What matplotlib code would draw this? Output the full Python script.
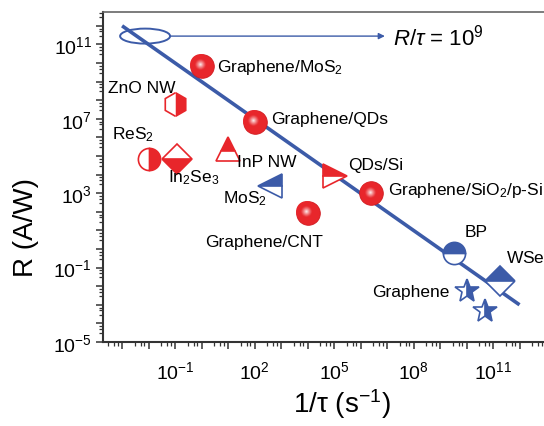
import numpy as np
import matplotlib
matplotlib.use("Agg")
import matplotlib.pyplot as plt
from matplotlib.patches import Ellipse
from matplotlib.transforms import ScaledTranslation
from matplotlib.ticker import LogLocator, FuncFormatter, NullFormatter
from matplotlib.colors import to_rgb

plt.rcParams['font.family'] = ['Liberation Sans', 'DejaVu Sans']
plt.rcParams['mathtext.fontset'] = 'custom'
plt.rcParams['mathtext.rm'] = 'Liberation Sans'
plt.rcParams['mathtext.it'] = 'Liberation Sans:italic'
plt.rcParams['mathtext.bf'] = 'Liberation Sans:bold'

RED = '#e8262b'
BLUE = '#3c5ba8'

# photodetectors: label, 1/tau (s^-1), responsivity (A/W)
names = ["Graphene/MoS$_2$", "ZnO NW", "Graphene/QDs", "ReS$_2$", "In$_2$Se$_3$",
         "InP NW", "MoS$_2$", "QDs/Si", "Graphene/SiO$_2$/p-Si", "Graphene/CNT",
         "BP", "WSe$_2$", "Graphene", ""]
inv_tau = [1.0, 0.1, 100, 0.01, 0.12, 10, 380, 1.1e5, 2.5e6, 1.0e4, 3.4e9, 1.8e11, 1.0e10, 5.0e10]
resp = [7e9, 6e7, 6.8e6, 7e4, 7e4, 2.4e5, 2.5e3, 8.3e3, 1.0e3, 87, 0.62, 0.019, 5.5e-3, 4.7e-4]

# marker style per device: (marker, color, fillstyle) ; 'sphere' = shaded ball
styles = [("sphere", RED, None), ("h", RED, "right"), ("sphere", RED, None),
          ("o", RED, "right"), ("D", RED, "bottom"), ("^", RED, "top"),
          ("<", BLUE, "top"), (">", RED, "top"), ("sphere", RED, None),
          ("sphere", RED, None), ("o", BLUE, "top"), ("D", BLUE, "top"),
          ("*", BLUE, "right"), ("*", BLUE, "right")]
msizes = [17, 17, 17, 16, 15, 17, 17, 17, 17, 17, 16, 15, 18, 18]

# label offsets in pixels from each marker, and alignment
label_dx = [15, -33, 17, -37, -9, 9, -3, 13, 17, -43, 11, 6, -17, 0]
label_dy = [-1, 17, 3, 25, -18, -13, -12, 12, 4, -29, 21, 23, 0, 0]
label_ha = ["left", "center", "left", "left", "left", "left", "right", "left",
            "left", "center", "left", "left", "right", "left"]

# R/tau = 1e9 reference line
line_x = np.array([1e-3, 1e12])
line_y = 1e9 / line_x

fig = plt.figure(figsize=(5.44, 4.27), dpi=100)
ax = fig.add_axes([103 / 544, 84 / 427, 443 / 544, 330.5 / 427])
ax.set_xscale('log')
ax.set_yscale('log')
ax.set_xlim(10 ** -3.72, 1e13)
ax.set_ylim(1e-5, 10 ** 12.77)

ax.plot(line_x, line_y, color=BLUE, lw=2.6, solid_capstyle='butt', zorder=2)


def sphere(x, y, size):
    # shaded ball: stack of shrinking discs going from red to white
    base = np.array(to_rgb(RED))
    shift = ax.transData + ScaledTranslation(-0.015, 0.015, fig.dpi_scale_trans)
    ax.plot([x], [y], 'o', ms=size, color=RED, mec='#d01a1f', mew=0.6, zorder=3)
    n = 14
    for i in range(1, n):
        r = 1 - i / n
        t = max(0.0, 1 - r / 0.55) ** 1.2
        c = base * (1 - t) + np.ones(3) * t
        ax.plot([x], [y], 'o', ms=size * r * 0.95, color=c, mew=0,
                transform=shift, zorder=3)


for i in range(len(names)):
    m, c, fs = styles[i]
    if m == "sphere":
        sphere(inv_tau[i], resp[i], msizes[i])
    else:
        ax.plot([inv_tau[i]], [resp[i]], marker=m, ms=msizes[i], color=c,
                fillstyle=fs, markerfacecoloralt='white', mec=c, mew=1.2,
                linestyle='none', zorder=3)
    if names[i]:
        ax.annotate(names[i], (inv_tau[i], resp[i]), xytext=(label_dx[i], label_dy[i]),
                    textcoords='offset pixels', ha=label_ha[i], va='center',
                    fontsize=12.5, zorder=4)

# ellipse with arrow pointing to the R/tau annotation
ell_x, ell_y = 7.4e-3, 2.8e11
ell = Ellipse((0, 0), 0.5, 0.15, fill=False, ec=BLUE, lw=1.4,
              transform=fig.dpi_scale_trans + ScaledTranslation(ell_x, ell_y, ax.transData))
ax.add_patch(ell)
ax.annotate("", xy=(8.3e6, ell_y), xytext=(0.065, ell_y),
            arrowprops=dict(arrowstyle='-|>', color=BLUE, lw=1.0, mutation_scale=9,
                            shrinkA=0, shrinkB=0))
ax.text(1.7e7, ell_y, r"$R/\tau$ = 10$^9$", fontsize=16, va='center', ha='left')

# axes decoration
for side in ['left', 'bottom']:
    ax.spines[side].set_color('#333333')
    ax.spines[side].set_linewidth(1.5)
ax.spines['top'].set_color('#666666')
ax.spines['top'].set_linewidth(1.2)
ax.spines['right'].set_visible(False)

x_labeled = [-1, 2, 5, 8, 11]
y_labeled = [-5, -1, 3, 7, 11]


def fmt(labeled):
    def f(v, pos):
        e = int(round(np.log10(v)))
        if e in labeled:
            return r"$\mathregular{10^{%d}}$" % e
        return ""
    return f


ax.xaxis.set_major_locator(LogLocator(base=10, numticks=40))
ax.yaxis.set_major_locator(LogLocator(base=10, numticks=40))
ax.xaxis.set_minor_locator(LogLocator(base=10, subs=(3, 5, 7), numticks=40))
ax.yaxis.set_minor_locator(LogLocator(base=10, subs=(3, 5, 7), numticks=40))
ax.xaxis.set_major_formatter(FuncFormatter(fmt(x_labeled)))
ax.yaxis.set_major_formatter(FuncFormatter(fmt(y_labeled)))
ax.xaxis.set_minor_formatter(NullFormatter())
ax.yaxis.set_minor_formatter(NullFormatter())
ax.tick_params(which='major', direction='out', length=5, width=1.1, colors='#333333',
               labelsize=14, labelcolor='black', top=False, right=False)
ax.tick_params(which='minor', direction='out', length=3, width=0.9, colors='#333333',
               top=False, right=False)
ax.tick_params(axis='x', which='major', pad=8)
ax.tick_params(axis='y', which='major', pad=3)

ax.set_xlabel("1/τ (s$^{\\mathregular{-1}}$)", fontsize=20)
ax.set_ylabel("R (A/W)", fontsize=20)
ax.xaxis.set_label_coords(0.54, -0.135)
ax.yaxis.set_label_coords(-0.145, 0.35)

fig.savefig("out.png", dpi=100)
